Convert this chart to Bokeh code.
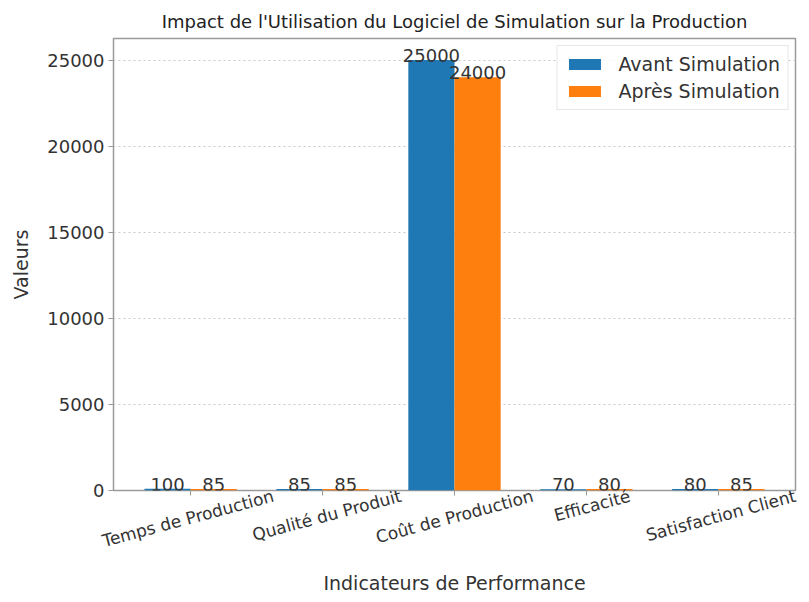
import math
import numpy as np
from bokeh.plotting import figure
from bokeh.models import (ColumnDataSource, Range1d, FixedTicker, Label,
                          LinearAxis, Legend, LegendItem)
from bokeh.embed import file_html
from bokeh.resources import INLINE

# Performance indicators, before and after adopting the simulation software
categories = ["Temps de Production", "Qualité du Produit", "Coût de Production",
              "Efficacité", "Satisfaction Client"]
avant = [100, 85, 25000, 70, 80]
apres = [85, 85, 24000, 80, 85]
y_ticks = [0, 5000, 10000, 15000, 20000, 25000]

FONT = "DejaVu Sans"
TXT = "#333333"
BLUE = "#1f77b4"
ORANGE = "#ff7f0e"
bar_w = 0.35
n = len(categories)
idx = np.arange(n)

W, H = 809, 602
LEFT, RIGHT, TOP, BOTTOM = 113, 14, 38, 112

src_avant = ColumnDataSource(dict(x=idx - bar_w / 2, top=avant))
src_apres = ColumnDataSource(dict(x=idx + bar_w / 2, top=apres))

# x-limits with 5 % padding around the outer bar edges, y-limit with 5 % headroom
span = (n - 1 + bar_w) - (-bar_w)
pad = 0.05 * span
x0, x1 = -bar_w - pad, n - 1 + bar_w + pad
ymax = max(max(avant), max(apres)) * 1.05

p = figure(width=W, height=H, output_backend="svg", toolbar_location=None,
           x_range=Range1d(x0, x1), y_range=Range1d(0, ymax),
           min_border_left=LEFT, min_border_right=RIGHT,
           min_border_top=TOP, min_border_bottom=BOTTOM,
           title="Impact de l'Utilisation du Logiciel de Simulation sur la Production")

p.title.align = "center"
p.title.text_font = FONT
p.title.text_font_size = "18px"
p.title.text_font_style = "normal"
p.title.text_color = "#222222"
p.title.offset = 0
p.title.standoff = 14

p.outline_line_color = "#9a9a9a"
p.outline_line_width = 1.5
p.background_fill_color = "white"
p.border_fill_color = "white"

r_avant = p.vbar(x="x", top="top", width=bar_w, source=src_avant,
                 fill_color=BLUE, line_color=None)
r_apres = p.vbar(x="x", top="top", width=bar_w, source=src_apres,
                 fill_color=ORANGE, line_color=None)

# value labels on top of each bar
for xs, vals in ((idx - bar_w / 2, avant), (idx + bar_w / 2, apres)):
    for x, v in zip(xs, vals):
        p.add_layout(Label(x=float(x), y=v, text=str(v),
                           text_align="center", text_baseline="bottom",
                           text_font=FONT, text_font_size="18px",
                           text_color=TXT, y_offset=-2))

# grid
p.xgrid.grid_line_color = None
p.ygrid.grid_line_color = "#c8c8c8"
p.ygrid.grid_line_dash = "2 3"
p.ygrid.ticker = FixedTicker(ticks=y_ticks)


def style_axis(ax):
    ax.axis_line_color = None
    ax.major_tick_line_color = "#9a9a9a"
    ax.major_tick_out = 5
    ax.major_tick_in = 0
    ax.minor_tick_line_color = None
    ax.major_label_text_font = FONT
    ax.major_label_text_font_size = "18px"
    ax.major_label_text_color = TXT
    ax.axis_label_text_font = FONT
    ax.axis_label_text_font_size = "19px"
    ax.axis_label_text_font_style = "normal"
    ax.axis_label_text_color = TXT


# y axis
yax = p.yaxis[0]
style_axis(yax)
yax.ticker = FixedTicker(ticks=y_ticks)
yax.axis_label = "Valeurs"
yax.major_label_standoff = 4
yax.axis_label_standoff = 12

# x axis: tick marks at each category centre
xax = p.xaxis[0]
style_axis(xax)
xax.ticker = FixedTicker(ticks=[float(i) for i in idx])
xax.major_label_overrides = {float(i): "" for i in idx}
xax.major_label_text_font_size = "0px"
xax.major_label_standoff = 0

# second x axis carrying the slanted category names; a rotated label ends at
# its tick, so each tick sits half a (rotated) label width right of the centre
angle = math.radians(15)
fs = 17
char_w = 0.53 * fs
ppu = (W - LEFT - RIGHT) / (x1 - x0)
name_pos = []
for i, c in zip(idx, categories):
    half = 0.5 * len(c) * char_w * math.cos(angle) / ppu
    name_pos.append(min(float(i) + half, x1))
cat_axis = LinearAxis(ticker=FixedTicker(ticks=name_pos),
                      major_label_overrides=dict(zip(name_pos, categories)),
                      major_label_orientation=angle)
style_axis(cat_axis)
cat_axis.major_tick_line_color = None
cat_axis.major_tick_out = 0
cat_axis.major_label_text_font_size = f"{fs}px"
cat_axis.major_label_standoff = 0
cat_axis.axis_label = "Indicateurs de Performance"
cat_axis.axis_label_standoff = 8
p.add_layout(cat_axis, "below")

legend = Legend(items=[LegendItem(label="Avant Simulation", renderers=[r_avant]),
                       LegendItem(label="Après Simulation", renderers=[r_apres])],
                location="top_right")
legend.label_text_font = FONT
legend.label_text_font_size = "19px"
legend.label_text_color = TXT
legend.glyph_width = 40
legend.glyph_height = 14
legend.label_height = 19
legend.label_standoff = 14
legend.spacing = 5
legend.padding = 7
legend.margin = 7
legend.border_line_color = "#d0d0d0"
legend.background_fill_alpha = 0.85
p.add_layout(legend)

open("out.html", "w").write(file_html(p, INLINE))
